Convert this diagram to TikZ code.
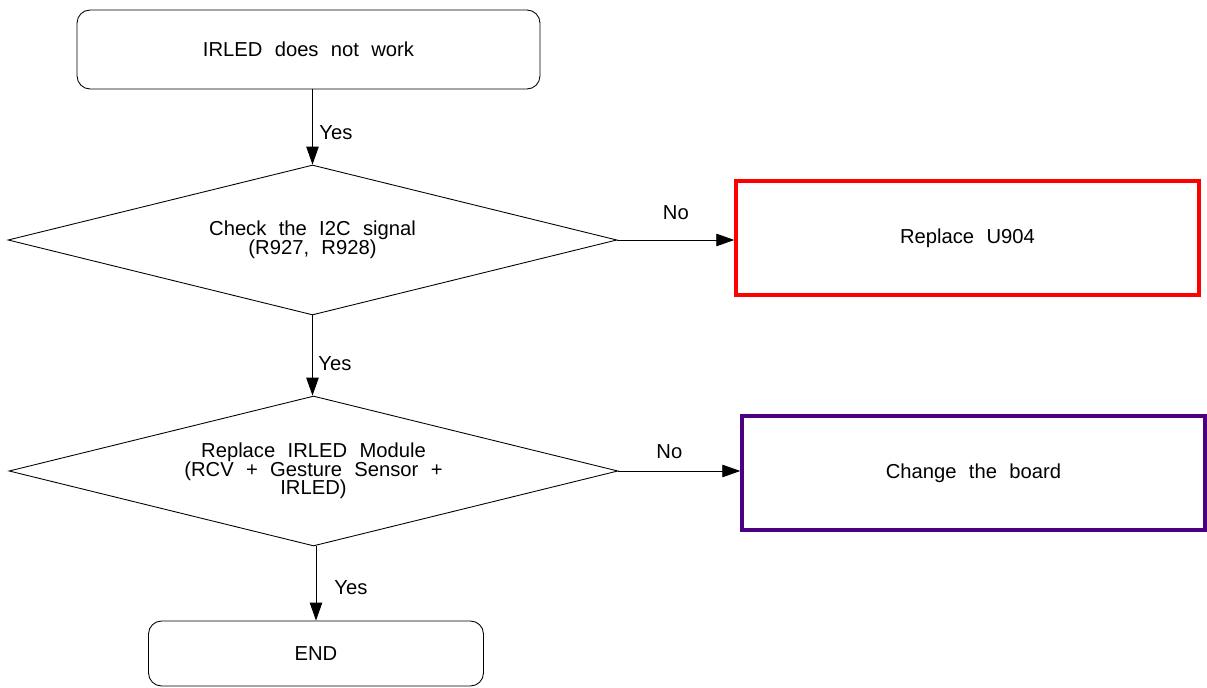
\documentclass[tikz,border=0pt]{standalone}
\usepackage{fontspec}
\setmainfont{Liberation Sans}[WordSpace=2.2]
\usetikzlibrary{shapes.geometric,arrows.meta}
\definecolor{boardpurple}{RGB}{78,0,130}
\newcommand{\flowfont}{\fontsize{11.5}{10.6}\selectfont\lineskiplimit=-6pt\relax}
\begin{document}
\begin{tikzpicture}[x=0.02cm, y=-0.02cm, line width=0.5pt,
	font=\flowfont,
	every node/.style={inner sep=0pt},
	term/.style={draw, rounded corners=0.26cm, minimum width=9.26cm, minimum height=1.58cm},
	ask/.style={draw, diamond, aspect=4.06, align=center, minimum width=12.18cm, minimum height=3cm},
	fix/.style={draw, line width=2pt, minimum width=9.26cm, minimum height=2.28cm},
	go/.style={-{Triangle[length=0.36cm, width=0.25cm]}}]
	\useasboundingbox (0,0) rectangle (1207,688);
	\node[term] (start) at (308.5,49.5) {IRLED does not work};
	\node[ask] (i2c) at (312.5,240) {Check the I2C signal\\(R927, R928)};
	\node[fix, draw=red] (u904) at (967.5,238) {Replace U904};
	\node[ask] (module) at (313.5,471) {Replace IRLED Module\\(RCV + Gesture Sensor +\\IRLED)};
	\node[fix, draw=boardpurple] (board) at (973.5,473) {Change the board};
	\node[term, minimum width=6.7cm, minimum height=1.3cm] (end) at (316,653.5) {END};
	\draw[go] (start.south -| i2c.north) -- (i2c.north) node[pos=0.58, right=0.13cm] {Yes};
	\draw[go] (i2c.east) -- (i2c.east -| u904.west) node[midway, above=0.4cm] {No};
	\draw[go] (i2c.south) -- (i2c.south |- module.north) node[pos=0.6, right=0.11cm] {Yes};
	\draw[go] (module.east) -- (module.east -| board.west) node[midway, above=0.24cm, xshift=-0.2cm] {No};
	\draw[go] (end.north |- module.south) -- (end.north) node[pos=0.56, right=0.36cm] {Yes};
\end{tikzpicture}
\end{document}
